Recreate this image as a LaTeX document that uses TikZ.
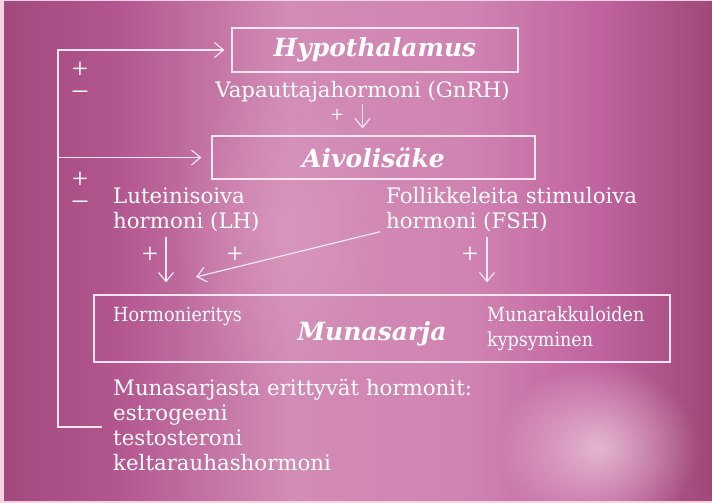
\documentclass[tikz,border=0pt]{standalone}
\usepackage{fontspec}
\setmainfont{DejaVu Serif}
\newfontfamily\condfont{DejaVu Serif Condensed}
\newfontfamily\plusfont{Liberation Serif}
\usetikzlibrary{arrows.meta,fadings}
\tikzfading[name=softglow, inner color=transparent!0, outer color=transparent!100]
\definecolor{edgepink}{HTML}{F6D3E3}
\definecolor{bgA}{HTML}{A24A7E}
\definecolor{bgB}{HTML}{B3568F}
\definecolor{bgC}{HTML}{D28CB5}
\definecolor{bgD}{HTML}{D083B2}
\definecolor{bgE}{HTML}{C0639E}
\definecolor{bgF}{HTML}{A04878}
\definecolor{glowc}{HTML}{F0D2E1}
\definecolor{lightc}{HTML}{DDA2C4}
\definecolor{linec}{HTML}{F7E6F0}
\pgfdeclarehorizontalshading{bgshade}{100bp}{color(0bp)=(bgA); color(25bp)=(bgA); color(33bp)=(bgB); color(45bp)=(bgC); color(58bp)=(bgD); color(67bp)=(bgE); color(75bp)=(bgF); color(100bp)=(bgF)}
\tikzset{
  line/.style={draw=linec, line width=1.2pt},
  arr/.style={line, -{Straight Barb[length=9pt,width=15pt,line width=1.2pt]}},
  box/.style={draw=linec, line width=1.2pt, inner sep=0pt},
  txt/.style={text=white, inner sep=0pt, font=\fontsize{21.3}{25}\selectfont},
  smalltxt/.style={text=white, inner sep=0pt, font=\condfont\fontsize{19.5}{25}\selectfont},
  title/.style={text=white, font=\bfseries\itshape\fontsize{25}{30}\selectfont},
  sign/.style={text=white, inner sep=0pt, anchor=base, font=\plusfont\fontsize{29}{29}\selectfont},
  smallsign/.style={sign, font=\plusfont\fontsize{23}{23}\selectfont}
}
\begin{document}
\begin{tikzpicture}[x=1pt,y=-1pt]
\useasboundingbox (0,0) rectangle (712,503);
\fill[edgepink] (0,0) rectangle (712,503);
\shade[shading=bgshade] (4,2) rectangle (712,500);
\begin{scope}
\clip (4,2) rectangle (712,500);
\fill[lightc, opacity=0.5, path fading=softglow] (285,230) ellipse (110 and 160);
\fill[glowc, opacity=0.75, path fading=softglow] (598,448) ellipse (100 and 85);
\end{scope}

% boxes
\node[box, minimum width=286, minimum height=44, title] (hypo) at (375,50) {Hypothalamus};
\node[box, minimum width=323, minimum height=43, title] (aivo) at (373.5,157.5) {Aivolisäke};
\node[box, minimum width=576, minimum height=67] (ovary) at (382,328.5) {};
\node[title, inner sep=0pt, anchor=base] (munas) at (372,340) {Munasarja};
\node[smalltxt, anchor=base west] (hormeri) at (113,321) {Hormonieritys};
\node[smalltxt, anchor=base west] (muna1) at (487,321) {Munarakkuloiden};
\node[smalltxt, anchor=base west] (muna2) at (487,346) {kypsyminen};

% texts
\node[txt, anchor=base] (gnrh) at (362.5,97) {Vapauttajahormoni (GnRH)};
\node[txt, anchor=base west] (lh1) at (113,203) {Luteinisoiva};
\node[txt, anchor=base west] (lh2) at (113,228) {hormoni (LH)};
\node[txt, anchor=base west] (fsh1) at (386,203) {Follikkeleita stimuloiva};
\node[txt, anchor=base west] (fsh2) at (386,228) {hormoni (FSH)};
\node[txt, anchor=base west] (hor1) at (113,395) {Munasarjasta erittyvät hormonit:};
\node[txt, anchor=base west] (hor2) at (113,420) {estrogeeni};
\node[txt, anchor=base west] (hor3) at (113,445) {testosteroni};
\node[txt, anchor=base west] (hor4) at (113,470) {keltarauhashormoni};

% signs
\node[smallsign] (p0) at (337,122) {+};
\node[sign] (p1) at (150,263) {+};
\node[sign] (p2) at (235,263) {+};
\node[sign] (p3) at (470,263.5) {+};
\node[sign] (fp1) at (80,78) {+};
\node[sign] (fm1) at (80,98.2) {–};
\node[sign] (fp2) at (80,188.5) {+};
\node[sign] (fm2) at (80,208.5) {–};

% connectors
\coordinate (lhx) at (166,0);
\coordinate (fshx) at (487,0);
\coordinate (fbx) at (58,0);
\coordinate (fb) at (102,427);
\coordinate (diagend) at (196,277);
\draw[arr, shorten <=2, shorten >=7] (gnrh.south) -- (gnrh.south |- aivo.north);
\draw[arr, shorten <=5, shorten >=12] (lh2.south -| lhx) -- (ovary.north -| lhx);
\draw[arr, shorten <=5, shorten >=12] (fsh2.south -| fshx) -- (ovary.north -| fshx);
\draw[arr, shorten <=1] ([xshift=-5pt]fsh2.south west) -- (diagend);
\draw[arr, shorten >=7] (fb) -| (fbx |- hypo.west) -- (hypo.west);
\draw[arr, shorten >=10] (fbx |- aivo.west) -- (aivo.west);
\end{tikzpicture}
\end{document}
